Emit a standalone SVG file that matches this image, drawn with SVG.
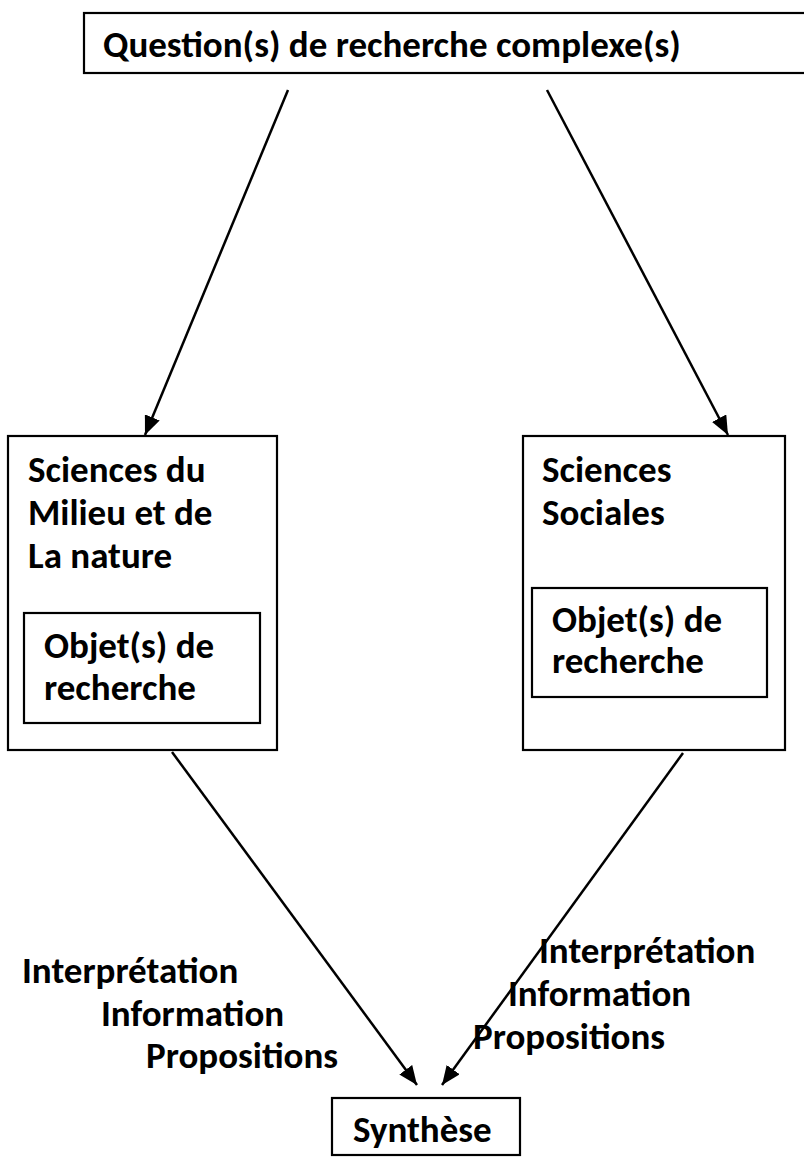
<svg xmlns="http://www.w3.org/2000/svg" width="804" height="1162" viewBox="0 0 804 1162">
<style>
.box{fill:#fff;stroke:#000;stroke-width:2.2}
.t{font-family:Carlito,Lato,"Open Sans",sans-serif;font-weight:bold;font-size:37px;fill:#000}
.c{stroke:#000;stroke-width:2.5;fill:none;marker-end:url(#ah)}
</style>
<defs>
<marker id="ah" markerUnits="userSpaceOnUse" markerWidth="20" markerHeight="16" refX="19" refY="8" orient="auto">
<path d="M0,0 L19,8 L0,16 z" fill="#000"/>
</marker>
</defs>
<rect width="804" height="1162" fill="#fff"/>
<g id="connectors">
<line class="c" x1="288" y1="90" x2="145" y2="435"/>
<line class="c" x1="547" y1="90" x2="728" y2="435"/>
<line class="c" x1="172" y1="752" x2="417" y2="1085"/>
<line class="c" x1="683" y1="753" x2="442" y2="1085"/>
</g>
<g id="question">
<rect class="box" x="84" y="13" width="730" height="60"/>
<text class="t" x="103" y="57">Question(s) de recherche complexe(s)</text>
</g>
<g id="sciences-milieu">
<rect class="box" x="8" y="436" width="269" height="314"/>
<text class="t" x="28" y="482">Sciences du</text>
<text class="t" x="28" y="525">Milieu et de</text>
<text class="t" x="28" y="568">La nature</text>
</g>
<g id="objet-left">
<rect class="box" x="24" y="613" width="236" height="110"/>
<text class="t" x="44" y="658">Objet(s) de</text>
<text class="t" x="44" y="700">recherche</text>
</g>
<g id="sciences-sociales">
<rect class="box" x="523" y="436" width="262" height="314"/>
<text class="t" x="542" y="482">Sciences</text>
<text class="t" x="542" y="525">Sociales</text>
</g>
<g id="objet-right">
<rect class="box" x="532" y="588" width="235" height="109"/>
<text class="t" x="552" y="632">Objet(s) de</text>
<text class="t" x="552" y="673">recherche</text>
</g>
<g id="labels-left">
<text class="t" x="22" y="983">Interprétation</text>
<text class="t" x="101" y="1026">Information</text>
<text class="t" x="146" y="1068">Propositions</text>
</g>
<g id="labels-right">
<text class="t" x="539" y="963">Interprétation</text>
<text class="t" x="508" y="1006">Information</text>
<text class="t" x="473" y="1049">Propositions</text>
</g>
<g id="synthese">
<rect class="box" x="332" y="1098" width="188" height="57"/>
<text class="t" x="353" y="1142">Synthèse</text>
</g>
</svg>
